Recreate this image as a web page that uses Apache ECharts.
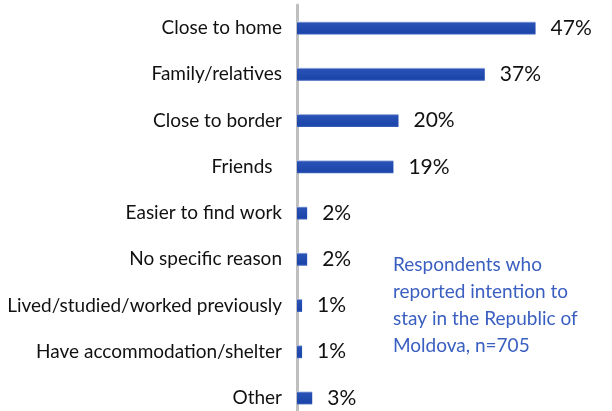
<!DOCTYPE html>
<html>
<head>
<meta charset="utf-8">
<script src="https://cdn.jsdelivr.net/npm/echarts@6/dist/echarts.min.js"></script>
<style>
  html, body { margin: 0; padding: 0; background: #fff; height: 411px; overflow: hidden; }
  #chart { width: 612px; height: 421px; }
</style>
</head>
<body>
<div id="chart"></div>
<script>
// Reasons for choosing the location of stay (share of respondents, %)
const categories = [
  'Close to home',
  'Family/relatives',
  'Close to border',
  'Friends ',
  'Easier to find work',
  'No specific reason',
  'Lived/studied/worked previously',
  'Have accommodation/shelter',
  'Other'
];
const shares = [47, 37, 20, 19, 2, 2, 1, 1, 3];
const noteLines = [
  'Respondents who',
  'reported intention to',
  'stay in the Republic of',
  'Moldova, n=705'
];

const chart = echarts.init(document.getElementById('chart'));
const font = 'Lato, "Open Sans", sans-serif';

chart.setOption({
  animation: false,
  grid: { left: 297, top: 5, width: 302, bottom: 0 },
  xAxis: {
    type: 'value', min: 0, max: 59.5,
    show: false
  },
  yAxis: {
    type: 'category',
    data: categories,
    inverse: true,
    axisLine: { show: true, lineStyle: { color: '#bfbfbf', width: 3 } },
    axisTick: { show: false },
    axisLabel: {
      color: '#111', fontFamily: font, fontSize: 19, margin: 15,
      formatter: v => v.replace(/ $/, '\u2002')
    }
  },
  series: [{
    type: 'bar',
    data: shares,
    barWidth: 13,
    z: 3,
    itemStyle: {
      color: new echarts.graphic.LinearGradient(0, 0, 0, 1, [
        { offset: 0, color: '#c9d5ef' },
        { offset: 0.12, color: '#2a52b6' },
        { offset: 0.85, color: '#1c45aa' },
        { offset: 1, color: '#3c62bf' }
      ])
    },
    label: {
      show: true, position: 'right', distance: 15,
      formatter: p => p.value + '%',
      color: '#111', fontFamily: font, fontSize: 21
    }
  }],
  graphic: noteLines.map((t, i) => ({
    type: 'text',
    left: 393,
    top: 255 + i * 27,
    style: { text: t, fill: '#3a5fc0', font: '19px ' + font }
  }))
});
</script>
</body>
</html>
